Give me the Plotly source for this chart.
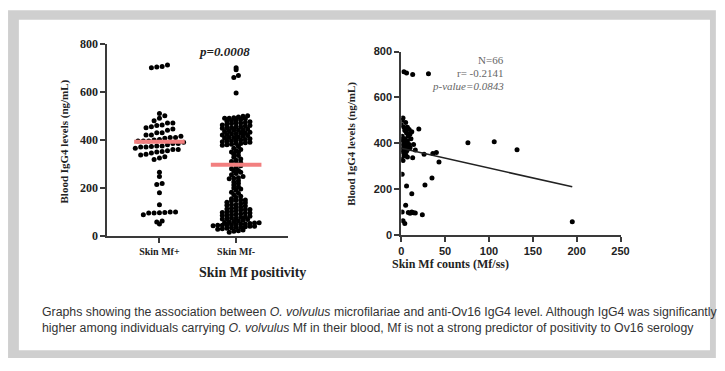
import numpy as np
import plotly.graph_objects as go

# page is 725x371; the figure sits inside the default 8px body margin
PAGE_W, PAGE_H = 725, 371
OFF = 8
W, H = PAGE_W - 2 * OFF, PAGE_H - 2 * OFF

# ---------------- data ----------------
group_labels = ["Skin Mf+", "Skin Mf-"]
group_medians = [392, 296]

# Skin Mf+ individuals: skin Mf counts (Mf/ss) and blood IgG4 (ng/mL)
mfpos_counts = [3, 6, 13, 31,
                20, 76, 106, 132, 195, 36, 40, 43, 35, 27, 13, 26, 12, 6, 1, 5,
                8, 10, 12, 14, 16, 24, 2, 4, 1,
                0, 1, 2, 3, 4, 5, 6, 7, 8, 9, 10, 11, 12,
                1, 2, 3, 4, 5, 6, 7, 8, 9, 10,
                1, 2, 3, 4, 5, 6, 7,
                0, 2, 1, 3, 0, 14, 16]
mfpos_igg4 = [712, 706, 700, 703,
              462, 402, 407, 372, 58, 355, 360, 318, 248, 218, 337, 352, 180, 214, 265, 130,
              98, 95, 100, 97, 96, 88, 62, 50, 100,
              480, 500, 510, 470, 455, 490, 445, 470, 430, 460, 440, 420, 450,
              430, 410, 395, 420, 400, 385, 410, 375, 395, 380,
              370, 360, 345, 385, 350, 365, 340,
              330, 325, 390, 375, 415, 395, 370]

# Skin Mf- individuals: blood IgG4 (ng/mL)
mfneg_igg4 = [700, 692, 668, 660, 595,
              500, 498, 495, 492, 490, 488, 485, 482, 480, 478, 475, 472, 470, 468, 465,
              462, 460, 458, 455, 452, 450, 448, 445, 442, 440, 438, 435, 432, 430, 428,
              425, 422, 420, 418, 415, 412, 410, 408, 405, 402, 400, 398, 395, 392, 390,
              388, 385, 382, 380, 378, 490, 470, 455, 440, 425, 410, 395, 385,
              372, 365, 360, 355, 348, 340, 335, 328, 320, 315, 310, 305, 298, 292, 285,
              280, 272, 265, 260, 255, 248, 242, 238, 230, 225, 218, 212, 205, 200,
              350, 300, 270, 240,
              195, 190, 182, 178, 172, 165, 160, 155, 150, 148, 145, 140, 138, 135, 130,
              128, 125, 120, 118, 115, 112, 110, 108, 105, 102, 100, 98, 95, 92, 90,
              88, 85, 82, 80, 78, 75, 72, 70, 68, 65, 62, 60, 150, 130, 110, 95, 85, 75,
              58, 56, 55, 54, 52, 50, 50, 48, 47, 46, 45, 44, 42, 40, 40, 38, 36, 35,
              34, 32, 30, 28, 25, 22, 20, 15]

# regression line end points
fit_x = [0, 195]
fit_y = [378, 210]

igg4_ticks = [0, 200, 400, 600, 800]
count_ticks = [0, 50, 100, 150, 200, 250]
stats_lines = ["N=66", "r= -0.2141", "<i>p-value=0.0843</i>"]
p_text = "<b><i>p=0.0008</i></b>"

# ---------------- helpers (page pixels -> paper fractions) ----------------
def px(x):
    return (x - OFF) / W


def py(y):
    return 1 - (y - OFF) / H


def swarm(values, center, bin_h, dx):
    v = np.asarray(values, float)
    order = np.argsort(v, kind="stable")
    bins = np.floor(v / bin_h).astype(int)
    xs = np.zeros(len(v))
    for b in np.unique(bins):
        idx = [i for i in order if bins[i] == b]
        n = len(idx)
        for k, i in enumerate(idx):
            xs[i] = center + (k - (n - 1) / 2) * dx
    return xs


serif = "Liberation Serif"
sans = "Liberation Sans"
axis_col = "#3a3a3a"

fig = go.Figure()

# left dot plot
pos_x = swarm(mfpos_igg4, 1, 28, 0.07)
neg_x = swarm(mfneg_igg4, 2, 14, 0.06)
fig.add_trace(go.Scatter(x=pos_x, y=mfpos_igg4, mode="markers",
                         marker=dict(color="black", size=5), xaxis="x", yaxis="y",
                         showlegend=False, hoverinfo="y"))
fig.add_trace(go.Scatter(x=neg_x, y=mfneg_igg4, mode="markers",
                         marker=dict(color="black", size=5), xaxis="x", yaxis="y",
                         showlegend=False, hoverinfo="y"))
for i, m in enumerate(group_medians):
    c = i + 1
    fig.add_trace(go.Scatter(x=[c - 0.33, c + 0.33], y=[m, m], mode="lines",
                             line=dict(color="#f27f7f", width=4), xaxis="x", yaxis="y",
                             showlegend=False, hoverinfo="skip"))

# right scatter
fig.add_trace(go.Scatter(x=mfpos_counts, y=mfpos_igg4, mode="markers",
                         marker=dict(color="black", size=5), xaxis="x2", yaxis="y2",
                         showlegend=False))
fig.add_trace(go.Scatter(x=fit_x, y=fit_y, mode="lines",
                         line=dict(color="#222222", width=1.6), xaxis="x2", yaxis="y2",
                         showlegend=False, hoverinfo="skip"))

axis_common = dict(showgrid=False, zeroline=False, showline=True, linecolor=axis_col,
                   linewidth=2, ticks="outside", tickcolor=axis_col, tickwidth=2,
                   ticklen=5)

fig.update_layout(
    width=W, height=H,
    margin=dict(l=0, r=0, t=0, b=0),
    paper_bgcolor="white", plot_bgcolor="rgba(0,0,0,0)",
    xaxis=dict(domain=[px(106), px(290)], range=[1 - 53 / 78, 2 + 53 / 78],
               tickvals=[1, 2], ticktext=group_labels, anchor="y",
               tickfont=dict(family=serif, size=10, color="#222", weight="bold"),
               **axis_common),
    yaxis=dict(domain=[py(238), py(38)], range=[0, 800], tickvals=igg4_ticks,
               anchor="x", tickfont=dict(family=serif, size=12, color="#222", weight="bold"),
               **axis_common),
    xaxis2=dict(domain=[px(405), px(628)], range=[0, 250], tickvals=count_ticks,
                anchor="y2", tickfont=dict(family=sans, size=11, color="#222", weight="bold"),
                **axis_common),
    yaxis2=dict(domain=[py(237), py(46)], range=[0, 800], tickvals=igg4_ticks,
                anchor="x2", tickfont=dict(family=sans, size=11, color="#222", weight="bold"),
                **axis_common),
)

P = dict(xref="paper", yref="paper", showarrow=False)
ann = []
ann.append(dict(x=px(197), y=py(36), text=p_text,
                font=dict(family=serif, size=13, color="#222"), **P))
ann.append(dict(x=px(197), y=py(286), text="<b>Skin Mf positivity</b>",
                font=dict(family=serif, size=14, color="#222"), **P))
ann.append(dict(x=px(54), y=py(140), text="<b>Blood IgG4 levels (ng/mL)</b>",
                textangle=-90, font=dict(family=serif, size=11, color="#222"), **P))
ann.append(dict(x=px(355), y=py(142), text="<b>Blood IgG4 levels (ng/mL)</b>",
                textangle=-90, font=dict(family=serif, size=11, color="#222"), **P))
ann.append(dict(x=px(517), y=py(277), text="<b>Skin Mf counts (Mf/ss)</b>",
                font=dict(family=serif, size=12, color="#222"), **P))
for k, t in enumerate(stats_lines):
    ann.append(dict(x=px(512), y=py(46 + 14 * k), text=t,
                    font=dict(family=serif, size=11, color="#666"), **P))
cap1 = ("Graphs showing the association between <i>O. volvulus</i> microfilariae and "
        "anti-Ov16 IgG4 level. Although IgG4 was significantly")
cap2 = ("higher among individuals carrying <i>O. volvulus</i> Mf in their blood, "
        "Mf is not a strong predictor of positivity to Ov16 serology")
ann.append(dict(x=px(38), y=py(327), xanchor="left", text=cap1,
                font=dict(family=sans, size=12.3, color="#333"), **P))
ann.append(dict(x=px(38), y=py(343), xanchor="left", text=cap2,
                font=dict(family=sans, size=12.3, color="#333"), **P))
fig.update_layout(annotations=ann)

# frame
fig.update_layout(shapes=[
    dict(type="rect", xref="paper", yref="paper", x0=px(5), x1=px(725), y0=py(365),
         y1=py(3), fillcolor="#cfcfcf", line=dict(width=0), layer="below"),
    dict(type="rect", xref="paper", yref="paper", x0=px(16), x1=px(719), y0=py(357),
         y1=py(13), fillcolor="white", line=dict(width=0), layer="below"),
])

fig.write_html("out.html", config={"displayModeBar": False})
